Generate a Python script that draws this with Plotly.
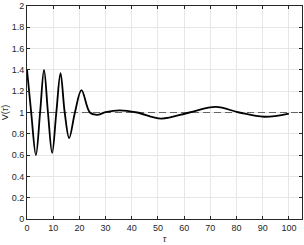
import plotly.graph_objects as go

tau = [0, 1.6, 3.4, 5.0, 6.5, 8.0, 9.6, 11.2, 12.8, 14.4, 16.1, 18.3, 20.8, 24.0, 26.7, 30.0, 35.4, 42.0, 51.2, 62.0, 72.1, 81.0, 90.5, 100]
V =   [1.40, 1.0, 0.60, 1.0, 1.40, 1.0, 0.62, 1.0, 1.37, 1.0, 0.76, 1.0, 1.21, 1.0, 0.977, 1.003, 1.02, 1.0, 0.943, 1.0, 1.053, 1.0, 0.96, 0.99]
ref_x = [0, 105]
ref_y = [1, 1]
xticks = list(range(0, 101, 10))
yticks = [0, 0.2, 0.4, 0.6, 0.8, 1, 1.2, 1.4, 1.6, 1.8, 2]
yticklabels = ["0", "0.2", "0.4", "0.6", "0.8", "1", "1.2", "1.4", "1.6", "1.8", "2"]

fig = go.Figure()
fig.add_trace(go.Scatter(x=ref_x, y=ref_y, mode="lines",
                         line=dict(color="#444444", width=0.8, dash="7px,4px"), showlegend=False))
fig.add_trace(go.Scatter(x=tau, y=V, mode="lines", line_shape="spline",
                         line=dict(color="black", width=1.8, smoothing=1.0), showlegend=False))

axis_common = dict(showline=True, linecolor="#262626", linewidth=1, mirror="ticks",
                   ticks="inside", ticklen=3, tickcolor="#262626",
                   showgrid=True, gridcolor="#e6e6e6", gridwidth=1, zeroline=False,
                   ticklabeloverflow="allow",
                   tickfont=dict(family="Liberation Sans, Arial, sans-serif", size=9, color="#262626"))
fig.update_xaxes(range=[0, 105], tickvals=xticks, title=dict(text="<i>τ</i>", standoff=0,
                 font=dict(family="Liberation Serif, serif", size=10, color="#262626")), **axis_common)
fig.update_yaxes(range=[0, 2], tickvals=yticks, ticktext=yticklabels,
                 title=dict(text="V(<i>τ</i>)", standoff=4,
                 font=dict(family="Liberation Sans, Arial, sans-serif", size=9, color="#262626")), **axis_common)
fig.update_layout(width=304, height=245, margin=dict(l=27, r=1, t=3, b=26),
                  plot_bgcolor="white", paper_bgcolor="white")
fig.write_html("out.html", config={"displayModeBar": False},
               post_script="document.body.style.margin='0';document.body.style.padding='0';")
